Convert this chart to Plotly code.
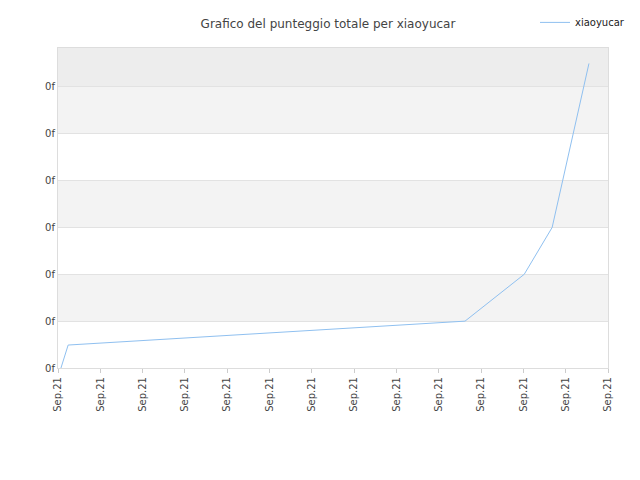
import plotly.graph_objects as go

x_vals = [0.07, 0.24, 9.62, 11.02, 11.68, 12.55]
y_vals = [0.0, 0.49, 1.0, 2.0, 3.0, 6.5]
x_ticks = list(range(14))
x_labels = ["Sep.21"] * 14
y_ticks = [0, 1, 2, 3, 4, 5, 6]
y_labels = ["0f"] * 7
band_fills = ["white", "#f3f3f3", "white", "#f3f3f3", "white", "#f3f3f3", "#ededed"]
y_top = 6.83

fig = go.Figure()
fig.add_trace(go.Scatter(x=x_vals, y=y_vals, mode="lines", name="xiaoyucar",
                         line=dict(color="#8fc0f0", width=1)))
shapes = []
for i, c in enumerate(band_fills):
    shapes.append(dict(type="rect", xref="paper", yref="y", x0=0, x1=1,
                       y0=i, y1=min(i + 1, y_top), fillcolor=c, line_width=0, layer="below"))
fig.update_layout(
    width=640, height=480, plot_bgcolor="white", paper_bgcolor="white",
    margin=dict(l=50, r=40, t=40, b=120, autoexpand=False),
    shapes=shapes,
    title=dict(text="Grafico del punteggio totale per xiaoyucar", x=0.5, xanchor="center",
               y=0.975, font=dict(family="DejaVu Sans", size=12, color="#444")),
    showlegend=True,
    legend=dict(x=1.04, y=1.08, xanchor="right", yanchor="middle",
                font=dict(family="DejaVu Sans", size=10, color="#222"), bgcolor="rgba(0,0,0,0)"),
    font=dict(family="DejaVu Sans", size=10, color="#444"),
)
fig.update_xaxes(range=[0, 13], tickvals=x_ticks, ticktext=x_labels, tickangle=-90,
                 showgrid=False, showline=True, linecolor="#ddd", mirror=True,
                 ticks="outside", ticklen=4, tickcolor="#ccc", zeroline=False, automargin=False)
fig.update_yaxes(range=[0, y_top], tickvals=y_ticks, ticktext=y_labels,
                 showgrid=True, gridcolor="#e2e2e2", showline=True, linecolor="#ddd",
                 mirror=True, zeroline=False, automargin=False)
fig.write_html("out.html")
